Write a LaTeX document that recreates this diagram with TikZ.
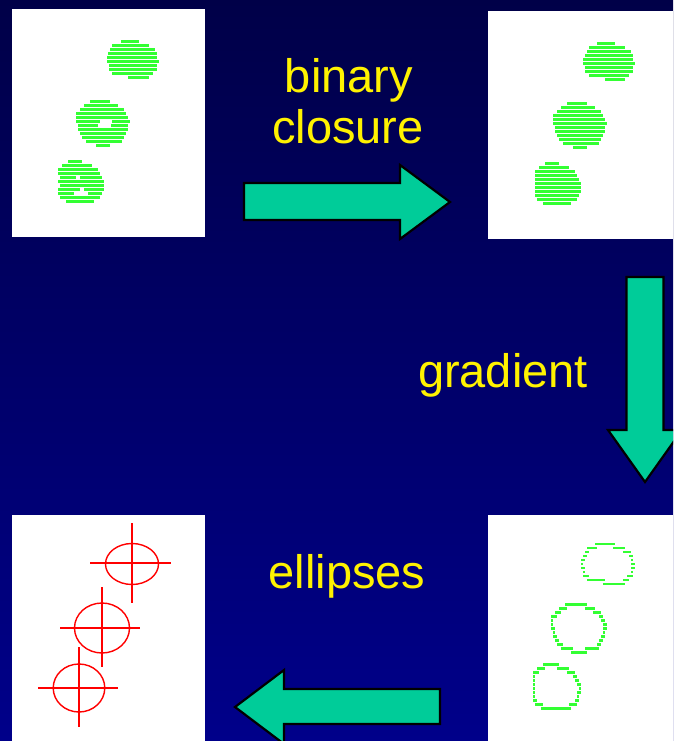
\documentclass[tikz,border=0pt]{standalone}
\usepackage{fontspec}
\newfontfamily\lblfont{Liberation Sans}
\definecolor{bgtop}{RGB}{0,0,72}
\definecolor{bgbottom}{RGB}{0,0,138}
\definecolor{arrowfill}{RGB}{0,204,153}
\definecolor{blobgreen}{RGB}{51,255,51}
\definecolor{ringred}{RGB}{255,0,0}
\tikzset{
  panel/.style={fill=white, draw=none},
  blockarrow/.style={fill=arrowfill, draw=black, line width=2.2pt, line join=miter},
  lbl/.style={text=yellow, font=\lblfont\fontsize{47}{50}\selectfont, inner sep=0pt, anchor=base},
  stripe/.style={fill=blobgreen},
  ringpen/.style={draw=ringred, line width=1.4pt},
  crosspen/.style={draw=ringred, line width=1.8pt},
}
\begin{document}
\begin{tikzpicture}[x=1pt, y=-1pt]
  \useasboundingbox (0,0) rectangle (673,741);
  \clip (0,0) rectangle (673,741);
  % backdrop
  \shade[top color=bgtop, bottom color=bgbottom] (0,0) rectangle (673,741);

  % image panels
  \fill[panel] (12,9) rectangle (205,237);
  \fill[panel] (488,11) rectangle (673,239);
  \fill[panel] (12,515) rectangle (205,741);
  \fill[panel] (488,515) rectangle (673,741);

  % raw segmentation (top left)
  \begin{scope}[shift={(10,10)}, scale=1/3]
    \foreach \r/\u/\v in {95/332/386, 107/307/416, 119/300/434, 131/295/440, 143/290/440, 155/290/447, 167/296/440, 179/296/440, 191/307/428, 203/355/416,
      275/241/301, 287/222/325, 299/211/343, 311/199/349, 323/199/355, 335/199/270, 335/307/361, 347/205/265, 347/302/355, 359/205/355, 371/211/349, 383/217/343, 395/229/337, 407/259/301,
      455/175/217, 467/157/247, 479/145/265, 491/145/271, 503/151/199, 503/211/277, 515/145/283, 527/151/283, 539/145/211, 539/223/283, 551/145/193, 551/235/277, 563/151/271, 575/169/253}
      \fill[stripe] (\u,\r-3.8) rectangle (\v,\r+3.8);
  \end{scope}

  % after binary closure (top right)
  \begin{scope}[shift={(485,10)}, scale=1/3]
    \foreach \r/\u/\v in {101/335/389, 113/311/419, 125/305/437, 137/299/443, 149/293/443, 161/293/449, 173/299/443, 185/299/443, 197/311/431, 209/359/419,
      281/245/305, 293/227/329, 305/215/347, 317/203/353, 329/203/359, 341/203/365, 353/209/359, 365/209/359, 377/215/353, 389/221/347, 401/233/341, 413/263/305,
      461/179/221, 473/161/251, 485/149/269, 497/149/275, 509/149/281, 521/149/287, 533/149/287, 545/149/287, 557/149/281, 569/155/275, 581/173/257}
      \fill[stripe] (\u,\r-3.8) rectangle (\v,\r+3.8);
  \end{scope}

  % gradient contours (bottom right)
  \begin{scope}[shift={(485,510)}, scale=1/3]
    \foreach \r/\u/\v in {101/329/389, 113/305/335, 113/383/419, 125/299/311, 125/413/437, 137/293/305, 137/431/443, 149/287/299, 149/437/443, 161/287/293, 161/437/449, 173/287/299, 173/437/449, 185/293/299, 185/437/443, 197/293/311, 197/425/443, 209/305/359, 209/413/431, 221/353/419,
      283/239/305, 295/221/245, 295/299/329, 307/209/227, 307/323/347, 319/197/215, 319/341/353, 331/197/203, 331/347/359, 343/197/203, 343/353/365, 355/197/209, 355/353/365, 367/203/209, 367/353/359, 379/203/215, 379/347/359, 391/209/221, 391/341/353, 403/215/233, 403/335/347, 415/227/263, 415/299/341, 427/257/305,
      463/173/221, 475/155/179, 475/215/251, 487/143/161, 487/245/269, 499/143/149, 499/263/275, 511/143/149, 511/269/281, 523/143/149, 523/275/287, 535/143/149, 535/281/287, 547/143/149, 547/275/287, 559/143/149, 559/275/281, 571/143/155, 571/269/281, 583/149/173, 583/251/275, 595/167/257}
      \fill[stripe] (\u,\r-3.5) rectangle (\v,\r+3.5);
  \end{scope}

  % fitted ellipses with centre crosses (bottom left)
  \draw[ringpen] (132,564) ellipse [x radius=26.5, y radius=20.5];
  \draw[crosspen] (90,563) -- (171,563);
  \draw[crosspen] (132,523) -- (132,603);
  \draw[ringpen] (102,628) ellipse [x radius=27.5, y radius=25];
  \draw[crosspen] (60,628) -- (140,628);
  \draw[crosspen] (102,587) -- (102,667);
  \draw[ringpen] (79,688) ellipse [x radius=25.8, y radius=24];
  \draw[crosspen] (38,688) -- (118,688);
  \draw[crosspen] (79,647) -- (79,727);

  % block arrows
  \draw[blockarrow] (244,183) -- (400,183) -- (400,165) -- (450,202) -- (400,239)
    -- (400,220) -- (244,220) -- cycle;
  \draw[blockarrow] (626.5,277) -- (663.5,277) -- (663.5,430) -- (682,430) -- (645,482)
    -- (608,430) -- (626.5,430) -- cycle;
  \draw[blockarrow] (440,689) -- (284,689) -- (284,670) -- (235,707) -- (284,744)
    -- (284,724) -- (440,724) -- cycle;

  % step labels
  \node[lbl] (tbinary) at (349,93) {binary};
  \node[lbl] (tclosure) at (348,143) {closure};
  \node[lbl] (tgradient) at (503,387) {gradient};
  \node[lbl] (tellipses) at (347,588) {ellipses};
\end{tikzpicture}
\end{document}
